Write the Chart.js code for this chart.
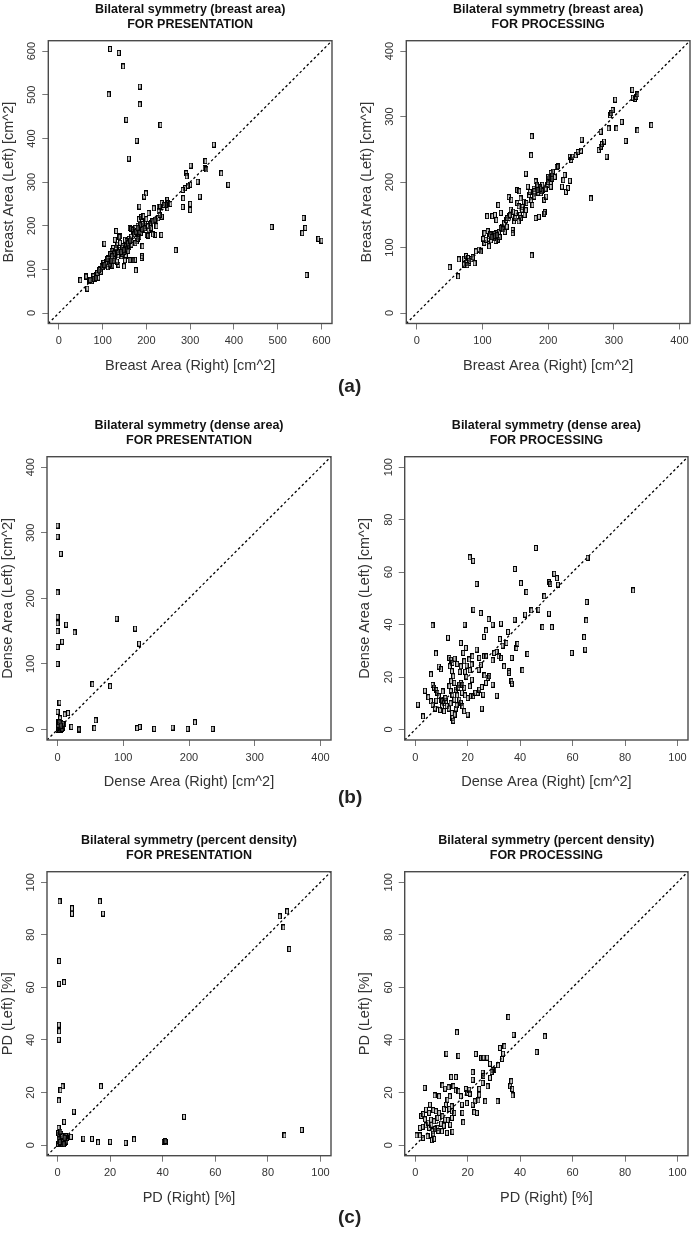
<!DOCTYPE html>
<html>
<head>
<meta charset="utf-8">
<script src="https://cdn.jsdelivr.net/npm/chart.js@4.4.1/dist/chart.umd.min.js"></script>
<style>
  body { margin: 0; background: #fff; width: 692px; height: 1242px; position: relative; overflow: hidden; font-family: "Liberation Sans", Arial, sans-serif; }
  canvas { position: absolute; }
  .lbl { position: absolute; font-weight: bold; font-size: 19px; color: #222; line-height: 22px; }
</style>
</head>
<body>
<canvas id="c1"></canvas>
<canvas id="c2"></canvas>
<canvas id="c3"></canvas>
<canvas id="c4"></canvas>
<canvas id="c5"></canvas>
<canvas id="c6"></canvas>
<div class="lbl" style="left:338px;top:375px">(a)</div>
<div class="lbl" style="left:338px;top:786px">(b)</div>
<div class="lbl" style="left:338px;top:1206px">(c)</div>
<script>
// tick labels and axis ranges
const ticksArea600 = [0, 100, 200, 300, 400, 500, 600];
const ticksArea400 = [0, 100, 200, 300, 400];
const ticksPct = [0, 20, 40, 60, 80, 100];
const range600 = [-24, 624];
const range400 = [-16, 416];
const range100 = [-4, 104];

// (a) breast area, presentation  [right, left]
const presArea = [
  [117,605],[137,596],[147,565],[185,519],[114,501],[185,478],[154,443],[232,431],[178,395],[160,354],
  [354,386],[335,348],[301,338],[371,320],[387,294],[333,332],[337,329],[317,301],[322,267],[300,294],
  [300,250],[300,236],[291,320],[292,313],[288,286],[283,282],[284,263],[283,243],[267,144],[234,179],
  [220,179],[486,197],[559,218],[556,183],[563,195],[593,170],[600,166],[566,87],
  [195,267],[199,274],[184,244],[205,229],[217,240],[228,244],[235,252],[248,259],[248,240],[235,221],
  [223,210],[211,206],[205,191],[201,179],[191,153],[189,126],[176,98],[149,107],[164,122],[174,122],
  [157,141],[104,159],[131,188],[140,176],[128,168],[49,75],[63,83],[65,56],[295,292],
  [247,260],[250,252],[244,248],[231,244],[228,233],[219,214],[214,210],[227,217],[208,203],[203,199],
  [223,199],[191,199],[185,193],[181,188],[179,184],[184,174],[193,191],[187,184],[162,195],[166,193],
  [170,185],[174,180],[204,177],[215,180],[178,164],[166,168],[159,164],[155,157],[161,152],[166,157],
  [151,168],[138,174],[134,157],[140,161],[146,153],[124,149],[131,139],[121,142],[147,138],[153,130],
  [143,130],[136,132],[159,142],[151,121],[162,121],[170,121],[190,130],[113,126],[117,115],[109,119],
  [102,115],[106,107],[118,107],[124,119],[128,130],[136,111],[94,100],[86,88],[79,84],[83,77],
  [75,73],[90,81],[98,107],[70,73],[62,84],
  [110,112],[115,118],[120,110],[112,105],[125,125],[108,116],[100,105],[122,108],[96,95],[88,92],
  [80,78],[72,76],[85,80],[92,98],[140,145],[145,150],[150,140],[155,165],[160,170],[165,175],
  [170,190],[175,195],[180,200],[186,196],[190,210],[195,200],[200,215],[178,188],[172,180],[183,215],
  [188,220],[193,222],[197,205],[210,195],[240,248],[255,250],[230,225],[180,170],[175,160],[145,135],
  [135,140],[130,150],[118,135],[127,120],[133,118],
  [182,192],[188,198],[184,186],[190,192],[186,202],[192,204],[196,194],[176,186],[180,195],[158,160],
  [163,166],[152,147],[148,144],[142,140],[126,136],[122,130],[116,112],[104,110],[111,124],[120,120]
];

// (a) breast area, processing
const procArea = [
  [50,70],[63,56],[64,82],[72,83],[75,87],[78,84],[75,77],[80,77],[83,82],[72,74],[88,76],[90,94],[94,97],[97,94],
  [103,122],[103,107],[105,112],[108,125],[110,117],[113,111],[115,120],[118,115],[120,122],[123,112],
  [126,116],[107,148],[115,148],[119,150],[121,142],[110,102],
  [124,165],[128,153],[130,132],[133,137],[136,142],[137,132],[141,148],[143,158],[146,127],[148,140],
  [151,153],[153,168],[155,163],[146,122],[140,177],[144,173],
  [153,188],[156,186],[158,175],[161,162],[164,150],[166,157],[169,193],[171,180],[174,172],[176,165],
  [179,178],[166,213],[174,241],[175,270],[175,88],
  [181,201],[184,193],[186,188],[189,183],[191,196],[194,173],[197,178],[199,196],[202,204],[204,214],
  [207,216],[210,208],[213,223],[204,193],[195,154],[181,145],[186,147],[194,152],
  [215,224],[221,193],[227,185],[230,191],[233,202],[223,203],[225,211],
  [233,239],[235,234],[237,239],[242,241],[245,246],[250,248],[251,265],[265,175],
  [277,249],[280,254],[282,258],[285,262],[289,239],[280,277],
  [292,282],[294,302],[296,305],[298,310],[302,326],[304,282],[312,292],[318,263],
  [328,341],[329,329],[332,327],[334,330],[336,334],[336,279],[357,287],
  [116,118],[118,121],[121,116],[112,120],[125,124],[128,130],[131,128],[134,124],[138,145],[142,150],
  [147,155],[150,145],[157,150],[160,158],[163,170],[167,168],[172,185],[178,190],[183,196],[187,192],
  [192,188],[196,190],[200,200],[203,206],[206,210],[185,184],[190,186],[158,145],[155,140],[120,110],
  [101,113],[80,80],[77,73],[85,85],
  [117,114],[119,118],[122,119],[114,116],[204,200],[206,205],[200,208],[188,190],[184,188],[179,186]
];

// (b) dense area, presentation
const presDense = [
  [0,311],[0,294],[5,268],[0,209],[0,172],[0,162],[0,150],[13,160],[26,148],[7,134],[0,126],[0,100],
  [90,169],[118,154],[124,131],[53,69],[80,66],[3,41],[0,27],[11,23],[16,25],[4,17],[58,14],[21,4],
  [32,1],[33,0],[56,2],[121,2],[125,4],[147,1],[175,3],[198,1],[209,11],[236,1],
  [0,0],[1,2],[2,5],[3,1],[4,8],[5,3],[6,0],[7,6],[8,2],[2,10],[1,12],[3,4],[9,5],[10,8],[5,10],
  [0,5],[2,0],[4,2],[6,4],[8,9],[1,7],[3,11],[7,1],[5,6]
];

// (b) dense area, processing
const procDense = [
  [1,9.5],[3,5],[3.7,14.8],[5,12.3],[6,10.8],[6.6,9.5],[6,21],[6.6,17],[7.2,16],[8,15],[6.6,39.7],
  [7.9,29],[9,24],[9.8,23],[8.5,14],[9,12.7],[9.8,11.4],[10.4,10.8],[11,10],[11.7,10.8],[10.2,8.9],
  [11,7],[12.5,35],[13,27.3],[13.6,26.6],[14.2,25.4],[13.2,24.1],[14,22.2],[14.5,20.3],[13.7,18.4],
  [13,16.5],[14.9,17.8],[15.5,15.2],[13.6,14.6],[14.2,13.3],[14.9,11.4],[14,6.3],[14.2,4.4],[14.5,3.4],
  [15,5.7],[17.4,33],[18.3,29.2],[19.3,31.1],[18.7,26],[19.6,24.4],[17.4,24.1],[17.4,17.8],[16.8,17.1],
  [18,17.1],[18.7,15.9],[17.8,14],[16.8,11.4],[17.4,10.2],[18,8.9],[18.7,7],[20,5.7],[18.8,40],
  [20.6,26.7],[20.8,22.6],[21.5,24.8],[21.6,19],[20.8,16.5],[21.3,12.7],[21.8,27.9],[20.8,65.6],
  [22.1,64.3],[22.2,45.7],[23.4,55.5],[23.4,30.5],[24.4,27.3],[25,24.7],[24.2,22.8],[23.8,14],
  [24.4,15.2],[22.1,12.7],[22.9,14],[25,44.4],[25.4,8],[25.9,13.3],[25.4,16.2],[26.2,35.3],[27,37.8],
  [26.3,27.9],[27,27.9],[26.4,20.6],[27,17.8],[27.6,19.7],[28.2,20.3],[28,42.1],[29.5,40],[29.5,17.1],
  [30.1,29.2],[31,29.6],[31.8,27.9],[29.5,26.4],[31.1,12.9],[32.3,34.5],[32.7,40.4],[33.3,32],
  [32.7,27.3],[33.9,24.1],[34.8,33],[35.4,37.2],[35.7,22.2],[35.8,21.6],[36.7,18.4],[36.9,17.5],
  [36.8,27.3],[37.9,41.9],[38,61.2],[38.6,31.1],[39,32.6],[40.3,55.8],[40.9,22.6],[42.4,52.4],
  [42.8,28.8],[41.9,43.8],[44.3,45.4],[46,69.2],[47,45.7],[48.5,39],[49.2,50.8],[51,56.1],[51.5,55.5],
  [51,44.2],[52.1,39],[53,59.4],[54,57.7],[54.4,55.2],[59.7,29.2],[64.4,35.2],[64.8,30.5],[65.2,41.6],
  [65.4,48.6],[65.7,65.5],[83.1,53],
  [12,9],[12.8,8],[11.5,12],[10.5,14.5],[15.5,8],[16,13],[16.5,16],[19,13],[20,12],[19.5,20],
  [19,22],[16,25],[15,27],[9.5,7.5],[8,11],[7.5,8],[13.5,10],[15.8,9.2],[17,22]
];

// (c) percent density, presentation
const presPD = [
  [0.8,92.7],[5.5,90.1],[5.5,88],[16.1,92.7],[17.3,88.1],[84.5,87],[87.3,88.9],[85.9,82.8],[88.1,74.6],
  [0.6,70],[0.6,61.4],[2.5,62],[0.5,45.8],[0.6,43.3],[0.5,40.1],[1.9,22.4],[1.1,20.9],[0.5,17],
  [16.5,22.4],[6.2,12.8],[48.1,10.8],[2.5,8.9],[0.4,6.6],[5.1,3.2],[9.8,2.5],[13.1,2.4],[15.4,1.1],
  [20,1.3],[25.9,0.9],[29.1,2.2],[40.4,1.3],[41.2,1.1],[41,1.6],[86.3,3.7],[92.9,5.8],
  [0.3,0.5],[0.5,1.5],[0.8,2.5],[1,0.8],[1.2,3],[1.5,1.8],[1.8,0.6],[2,2.4],[2.2,1.2],[2.5,3.2],
  [2.8,0.9],[3,2],[3.3,1.4],[3.6,2.7],[0.6,3.8],[1.4,4.2],[0.4,2.2],[1.7,3.5],[2.4,0.4],[3.1,3.4],
  [0.9,1.2],[2.7,2.8],[0.2,4.5],[1.1,5.2]
];

// (c) percent density, processing
const procPD = [
  [35.5,48.7],[15.9,42.9],[37.5,42],[49.4,41.4],[46.3,35.4],[11.9,34.8],[16.5,34],[23.1,34.7],
  [25.2,33.2],[26,33.3],[27.4,33.3],[32.3,37],[34,37.6],[33.5,34.8],[33.1,32.8],[28.5,31],[31.6,30.4],
  [30.1,28.7],[29.5,28.5],[29.1,27.9],[21.9,27.8],[25.7,27.6],[26,26.3],[25.7,23.7],[21.9,24.9],
  [24.4,21.4],[24.4,19.2],[24.1,17],[28.5,25.6],[27.6,22.4],[26.7,16.7],[31.4,16.7],[36.2,22.4],
  [36.6,24.3],[37,21.4],[37.1,18.9],[15.5,25.9],[13.7,25.9],[14.6,22.4],[15.5,20.8],[16.5,20.5],
  [17.4,18.6],[17.8,15.4],[18,12.3],[18.3,8.7],[19.3,21.4],[19.9,19.9],[20.6,21.1],[20.8,19.6],
  [19.7,16],[21.9,15.4],[22.7,16.7],[22.5,12.5],[23.5,12.3],[10.4,22.7],[11.4,21.5],[12.7,22],
  [13.2,18.6],[12.3,17.3],[11.7,15.4],[11,13.8],[13,13.8],[13.9,14.8],[14,12.9],[14.9,12.3],[14,10.4],
  [13.3,7.8],[14.2,5.1],[12.1,4.7],[10.2,5.3],[8.5,6.6],[6.6,5.3],[6.4,1.9],[7.2,2.4],[4.7,3.4],
  [5.3,6.6],[4,7.5],[2.8,7],[3.7,9.8],[2.3,11.1],[3,11.8],[1.8,6.6],[0.5,3.7],[1.8,3.7],[3,2.8],
  [3.6,21.8],[5.6,15.4],[7.4,18.9],[9.1,18.6],[7.9,12.9],[9.1,12.3],[6,9.7],[7.2,9.1],[8.5,10.4],
  [10.4,11],[11.4,9.7],[4.1,13.5],[5.3,12.3],[6.9,13.3],[9.8,8.2],[6.2,7.8],[7.5,6.1],[8.8,5.4],
  [10.9,7.4],[12.4,9.6],[4.9,8.6],[6.9,4.4]
];

// box positions in the page (left, top, right, bottom) and first title line centre
const panels = [
  { id: 'c1', box: [48.3, 40.7, 332.3, 323.5], titleY: 9.3, title: ['Bilateral symmetry (breast area)', 'FOR PRESENTATION'],
    pts: presArea, range: range600, ticks: ticksArea600, xTitle: 'Breast Area (Right) [cm^2]', yTitle: 'Breast Area (Left) [cm^2]' },
  { id: 'c2', box: [406.3, 40.7, 690.3, 323.5], titleY: 9.3, title: ['Bilateral symmetry (breast area)', 'FOR PROCESSING'],
    pts: procArea, range: range400, ticks: ticksArea400, xTitle: 'Breast Area (Right) [cm^2]', yTitle: 'Breast Area (Left) [cm^2]' },
  { id: 'c3', box: [47, 456.7, 331, 740], titleY: 425, title: ['Bilateral symmetry (dense area)', 'FOR PRESENTATION'],
    pts: presDense, range: range400, ticks: ticksArea400, xTitle: 'Dense Area (Right) [cm^2]', yTitle: 'Dense Area (Left) [cm^2]' },
  { id: 'c4', box: [404.7, 456.7, 688.3, 740], titleY: 425, title: ['Bilateral symmetry (dense area)', 'FOR PROCESSING'],
    pts: procDense, range: range100, ticks: ticksPct, xTitle: 'Dense Area (Right) [cm^2]', yTitle: 'Dense Area (Left) [cm^2]' },
  { id: 'c5', box: [47, 871.7, 331, 1155.7], titleY: 840, title: ['Bilateral symmetry (percent density)', 'FOR PRESENTATION'],
    pts: presPD, range: range100, ticks: ticksPct, xTitle: 'PD (Right) [%]', yTitle: 'PD (Left) [%]' },
  { id: 'c6', box: [404.7, 871.7, 688.3, 1155.7], titleY: 840, title: ['Bilateral symmetry (percent density)', 'FOR PROCESSING'],
    pts: procPD, range: range100, ticks: ticksPct, xTitle: 'PD (Right) [%]', yTitle: 'PD (Left) [%]' }
];

// small open rectangle like R's pch=0 in the figure
const marker = document.createElement('canvas');
marker.width = 4; marker.height = 6;
const mctx = marker.getContext('2d');
mctx.fillStyle = 'rgba(140,140,140,0.45)';
mctx.fillRect(1, 1, 2, 4);
mctx.strokeStyle = '#000';
mctx.lineWidth = 1;
mctx.strokeRect(0.5, 0.5, 3, 5);

const boxPlugin = {
  id: 'boxPlugin',
  afterDraw(chart) {
    const a = chart.chartArea, ctx = chart.ctx;
    ctx.save();
    ctx.strokeStyle = '#4a4a4a';
    ctx.lineWidth = 1.4;
    ctx.strokeRect(a.left, a.top, a.right - a.left, a.bottom - a.top);
    ctx.restore();
  }
};

const FONT = '"Liberation Sans", Arial, sans-serif';
const TITLE_LH = 14.75, Y_W = 48, X_H = 51;

panels.forEach(p => {
  const [bl, bt, br, bb] = p.box;
  const cLeft = Math.round(bl - 50);
  const cTop = Math.round(p.titleY - 2 - TITLE_LH / 2);
  const cW = Math.round(br + 4) - cLeft;
  const cH = Math.round(bb + X_H + 2) - cTop;
  const cv = document.getElementById(p.id);
  cv.width = cW; cv.height = cH;
  cv.style.left = cLeft + 'px'; cv.style.top = cTop + 'px';
  cv.style.width = cW + 'px'; cv.style.height = cH + 'px';

  const tickArr = p.ticks;
  const axis = (title, isY) => ({
    type: 'linear',
    min: p.range[0],
    max: p.range[1],
    afterBuildTicks: s => { s.ticks = tickArr.map(v => ({ value: v })); },
    afterFit: s => { if (isY) s.width = Y_W; else s.height = X_H; },
    grid: { drawOnChartArea: false, drawTicks: true, tickLength: 6, tickColor: '#777', lineWidth: 1 },
    border: { display: false },
    ticks: isY
      ? { font: { family: FONT, size: 11 }, color: '#333', padding: 1, minRotation: 90, maxRotation: 90, crossAlign: 'center' }
      : { font: { family: FONT, size: 11 }, color: '#333', padding: 5, maxRotation: 0, autoSkip: false },
    title: { display: true, text: title, color: '#333', font: { family: FONT, size: 14.5 }, padding: { top: 0, bottom: 0 } }
  });

  new Chart(cv, {
    type: 'scatter',
    data: {
      datasets: [
        {
          data: p.pts.map(d => ({ x: d[0], y: d[1] })),
          pointStyle: marker,
          pointRadius: 3,
          pointHoverRadius: 3
        },
        {
          data: [{ x: p.range[0], y: p.range[0] }, { x: p.range[1], y: p.range[1] }],
          showLine: true,
          borderColor: '#000',
          borderWidth: 1.3,
          borderDash: [2.5, 2.5],
          pointRadius: 0
        }
      ]
    },
    options: {
      responsive: false,
      animation: false,
      events: [],
      layout: { padding: { left: bl - Y_W - cLeft, right: cLeft + cW - br, top: 0, bottom: (cTop + cH) - (bb + X_H) } },
      plugins: {
        legend: { display: false },
        tooltip: { enabled: false },
        title: {
          display: true,
          fullSize: false,
          text: p.title,
          color: '#111',
          font: { family: FONT, size: 12.5, weight: 'bold', lineHeight: TITLE_LH / 12.5 },
          padding: { top: 2, bottom: bt - cTop - 2 - 2 * TITLE_LH }
        }
      },
      scales: { x: axis(p.xTitle, false), y: axis(p.yTitle, true) }
    },
    plugins: [boxPlugin]
  });
});
</script>
</body>
</html>
